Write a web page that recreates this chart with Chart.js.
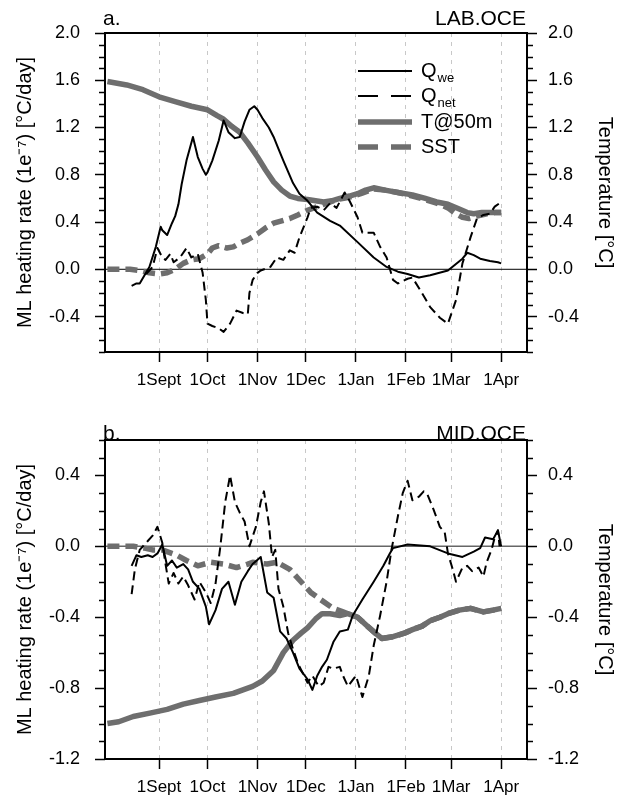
<!DOCTYPE html>
<html>
<head>
<meta charset="utf-8">
<script src="https://cdn.jsdelivr.net/npm/chart.js@4.4.1/dist/chart.umd.min.js"></script>
<style>
  body { margin: 0; background: #fff; }
  canvas { display: block; }
</style>
</head>
<body>
<canvas id="chart-lab" width="625" height="400"></canvas>
<canvas id="chart-mid" width="625" height="399"></canvas>
<script>
// x values are days counted from 1 Sept
const monthTickDays = [0, 30, 61, 91, 122, 153, 181, 212];
const monthTickLabels = ['1Sept', '1Oct', '1Nov', '1Dec', '1Jan', '1Feb', '1Mar', '1Apr'];
const labTicks = [-0.4, 0, 0.4, 0.8, 1.2, 1.6, 2.0];
const midTicks = [-1.2, -0.8, -0.4, 0, 0.4];

/* a. LAB.OCE */
const labQweDays = [-17, -14, -12, -9, -6, -2, 1, 2, 5, 8,
  10, 12, 14, 17, 21, 24, 27, 29, 30, 33,
  37, 40, 43, 47, 50, 53, 56, 59, 61, 64,
  68, 71, 74, 77, 83, 87, 92, 98, 106, 112,
  123, 133, 141, 148, 154, 161, 168, 179, 188, 191,
  195, 199, 205, 210, 212];
const labQweValues = [-0.14, -0.12, -0.12, -0.05, 0.02, 0.19, 0.36, 0.33, 0.29, 0.39,
  0.45, 0.55, 0.72, 0.92, 1.12, 0.95, 0.85, 0.80, 0.82, 0.92,
  1.09, 1.26, 1.16, 1.11, 1.12, 1.25, 1.35, 1.38, 1.35, 1.28,
  1.20, 1.12, 1.02, 0.92, 0.73, 0.64, 0.58, 0.48, 0.41, 0.37,
  0.23, 0.10, 0.02, -0.02, -0.04, -0.07, -0.05, -0.01, 0.09, 0.14,
  0.12, 0.09, 0.07, 0.06, 0.05];

const labQnetDays = [-8, -4, -1, 2, 4, 7, 9, 13, 17, 20,
  24, 27, 29, 30, 33, 37, 40, 44, 48, 52,
  55, 56, 58, 61, 63, 69, 73, 77, 81, 84,
  87, 92, 94, 98, 102, 106, 110, 115, 118, 123,
  126, 133, 137, 141, 145, 148, 154, 157, 162, 168,
  174, 179, 184, 188, 193, 197, 201, 205, 208, 211];
const labQnetValues = [-0.04, 0.02, 0.18, 0.10, 0.08, 0.13, 0.06, 0.10, 0.18, 0.10,
  0.13, -0.03, -0.26, -0.46, -0.48, -0.50, -0.53, -0.46, -0.35, -0.37,
  -0.38, -0.20, -0.09, -0.03, -0.01, 0.02, 0.10, 0.08, 0.16, 0.14,
  0.27, 0.44, 0.52, 0.53, 0.50, 0.56, 0.52, 0.65, 0.58, 0.44,
  0.31, 0.31, 0.19, 0.10, -0.09, -0.12, -0.08, -0.07, -0.18, -0.32,
  -0.41, -0.46, -0.26, 0.05, 0.27, 0.43, 0.46, 0.47, 0.53, 0.56];

const labT50Days = [-32, -20, -10, 0, 10, 20, 30, 36, 40, 45,
  50, 55, 61, 66, 71, 76, 81, 86, 92, 97,
  102, 107, 112, 118, 123, 128, 133, 140, 148, 157,
  165, 172, 179, 186, 191, 195, 200, 206, 212];
const labT50Values = [1.59, 1.56, 1.52, 1.46, 1.42, 1.38, 1.35, 1.30, 1.27, 1.21,
  1.16, 1.07, 0.95, 0.84, 0.74, 0.67, 0.62, 0.60, 0.59, 0.58,
  0.57, 0.58, 0.60, 0.62, 0.64, 0.67, 0.69, 0.67, 0.65, 0.63,
  0.60, 0.57, 0.55, 0.51, 0.48, 0.47, 0.48, 0.48, 0.48];

const labSstDays = [-32, -25, -18, -12, -6, 0, 5, 10, 15, 20,
  25, 30, 33, 37, 42, 46, 50, 55, 61, 66,
  71, 76, 81, 86, 92, 98, 104, 110, 118, 125,
  133, 140, 148, 157, 165, 172, 179, 184, 188, 192,
  197, 203, 208, 212];
const labSstValues = [0, 0, 0, -0.01, -0.03, -0.04, -0.03, 0.0, 0.05, 0.08,
  0.09, 0.13, 0.18, 0.20, 0.18, 0.19, 0.22, 0.25, 0.30, 0.35,
  0.39, 0.41, 0.43, 0.46, 0.50, 0.53, 0.56, 0.59, 0.61, 0.64,
  0.68, 0.67, 0.65, 0.62, 0.59, 0.56, 0.52, 0.47, 0.44, 0.43,
  0.45, 0.47, 0.48, 0.48];

/* b. MID.OCE */
const midQweDays = [-17, -14, -11, -7, -4, -1, 2, 5, 8, 11,
  15, 18, 21, 25, 29, 31, 35, 39, 43, 47,
  51, 55, 58, 63, 67, 71, 75, 79, 83, 87,
  92, 95, 98, 101, 104, 108, 112, 117, 120, 126,
  133, 139, 143, 145, 154, 168, 179, 188, 195, 199,
  202, 207, 210, 212];
const midQweValues = [-0.11, -0.05, -0.06, -0.05, -0.06, -0.04, 0.01, -0.11, -0.08, -0.12,
  -0.10, -0.13, -0.20, -0.24, -0.34, -0.44, -0.36, -0.24, -0.20, -0.33,
  -0.20, -0.14, -0.10, -0.06, -0.26, -0.29, -0.48, -0.52, -0.60, -0.69,
  -0.75, -0.81, -0.73, -0.68, -0.64, -0.54, -0.48, -0.47, -0.39, -0.30,
  -0.20, -0.11, -0.04, -0.01, 0.01, 0.0, -0.04, -0.06, -0.03, -0.01,
  0.05, 0.04, 0.09, 0.0];

const midQnetDays = [-17, -15, -12, -7, -4, -1, 2, 4, 6, 9,
  12, 15, 18, 22, 25, 29, 32, 35, 38, 41,
  44, 47, 50, 53, 56, 60, 63, 65, 68, 70,
  72, 74, 77, 80, 83, 86, 92, 95, 99, 102,
  105, 108, 112, 114, 117, 122, 126, 130, 133, 137,
  141, 144, 148, 151, 154, 157, 161, 164, 166, 170,
  174, 177, 179, 182, 184, 188, 191, 194, 198, 201,
  203, 206, 208, 210, 211];
const midQnetValues = [-0.27, -0.13, -0.02, 0.03, 0.06, 0.11, 0.02, -0.10, -0.21, -0.15,
  -0.21, -0.17, -0.22, -0.30, -0.20, -0.26, -0.32, -0.21, 0.0, 0.25,
  0.40, 0.25, 0.19, 0.14, 0.0, 0.11, 0.25, 0.31, 0.13, -0.06,
  -0.02, -0.24, -0.34, -0.49, -0.58, -0.66, -0.77, -0.73, -0.79, -0.77,
  -0.68, -0.69, -0.68, -0.73, -0.79, -0.73, -0.85, -0.73, -0.56, -0.39,
  -0.20, -0.02, 0.17, 0.30, 0.37, 0.26, 0.28, 0.31, 0.30, 0.21,
  0.11, 0.08, -0.04, -0.13, -0.20, -0.12, -0.11, -0.14, -0.12, -0.17,
  -0.09, -0.02, 0.05, 0.09, 0.0];

const midT50Days = [-32, -25, -16, -5, 5, 15, 25, 35, 46, 52,
  58, 64, 71, 77, 83, 88, 92, 97, 101, 106,
  112, 117, 123, 129, 134, 138, 145, 152, 157, 163,
  168, 174, 179, 186, 193, 201, 207, 212];
const midT50Values = [-1.0, -0.99, -0.96, -0.94, -0.92, -0.89, -0.87, -0.85, -0.83, -0.81,
  -0.79, -0.76, -0.70, -0.60, -0.53, -0.49, -0.46, -0.41, -0.38, -0.38,
  -0.39, -0.38, -0.40, -0.45, -0.49, -0.52, -0.51, -0.49, -0.47, -0.45,
  -0.42, -0.40, -0.38, -0.36, -0.35, -0.37, -0.36, -0.35];

const midSstDays = [-32, -16, -9, -4, 2, 11, 17, 24, 32, 40,
  48, 55, 58, 67, 73, 81, 87, 94, 100, 108,
  114, 117, 123, 129, 134, 138, 145, 152, 157, 163,
  168, 174, 179, 186, 193, 201, 207, 212];
const midSstValues = [0, 0, -0.01, -0.02, -0.02, -0.05, -0.08, -0.11, -0.09, -0.10,
  -0.12, -0.10, -0.09, -0.10, -0.09, -0.13, -0.19, -0.26, -0.30, -0.35,
  -0.37, -0.38, -0.40, -0.45, -0.49, -0.52, -0.51, -0.49, -0.47, -0.45,
  -0.42, -0.40, -0.38, -0.36, -0.35, -0.37, -0.36, -0.35];

const GREY = '#6e6e6e';
const FONT = "'Liberation Sans', Arial, Helvetica, sans-serif";

Chart.defaults.font.family = FONT;
Chart.defaults.color = '#000';

function toPoints(days, values) {
  return days.map((d, i) => ({ x: d, y: values[i] }));
}

// frame, zero line, minor ticks, panel names and the legend
const panelDecor = {
  id: 'panelDecor',
  beforeDatasetsDraw(chart, args, opts) {
    const { ctx, chartArea, scales } = chart;
    const y0 = scales.y.getPixelForValue(0);
    ctx.save();
    ctx.strokeStyle = opts.zeroColor;
    ctx.lineWidth = opts.zeroWidth;
    ctx.beginPath();
    ctx.moveTo(chartArea.left, y0);
    ctx.lineTo(chartArea.right, y0);
    ctx.stroke();
    ctx.restore();
  },
  afterDraw(chart, args, opts) {
    const { ctx, chartArea, scales } = chart;
    ctx.save();

    // panel names
    ctx.fillStyle = '#000';
    ctx.font = '21px ' + FONT;
    ctx.textBaseline = 'alphabetic';
    ctx.textAlign = 'left';
    ctx.fillText(opts.letter, chartArea.left - 2, opts.nameBaseline);
    ctx.textAlign = 'right';
    ctx.fillText(opts.name, chartArea.right - 1, opts.nameBaseline);

    // minor ticks every 0.1
    ctx.strokeStyle = '#000';
    ctx.lineWidth = 1.5;
    ['y', 'y2'].forEach(id => {
      const s = scales[id];
      for (let k = Math.ceil(s.min * 10 - 1e-6); k <= Math.floor(s.max * 10 + 1e-6); k++) {
        if (k % 4 === 0) continue;
        const py = Math.round(s.getPixelForValue(k / 10)) + 0.5;
        ctx.beginPath();
        if (id === 'y') {
          ctx.moveTo(chartArea.left - 6, py);
          ctx.lineTo(chartArea.left, py);
        } else {
          ctx.moveTo(chartArea.right, py);
          ctx.lineTo(chartArea.right + 6, py);
        }
        ctx.stroke();
      }
    });

    // box around the plot
    ctx.lineWidth = 2;
    ctx.strokeRect(chartArea.left, chartArea.top, chartArea.right - chartArea.left, chartArea.bottom - chartArea.top);

    // legend, only on the first panel
    if (opts.legend) {
      const rows = [
        { main: 'Q', sub: 'we', color: '#000', width: 2, dash: [] },
        { main: 'Q', sub: 'net', color: '#000', width: 2, dash: [20, 13] },
        { main: 'T@50m', sub: '', color: GREY, width: 5.5, dash: [] },
        { main: 'SST', sub: '', color: GREY, width: 5.5, dash: [20, 13] }
      ];
      const rowY = [71, 96, 122, 147];
      rows.forEach((r, i) => {
        ctx.strokeStyle = r.color;
        ctx.lineWidth = r.width;
        ctx.setLineDash(r.dash);
        ctx.beginPath();
        ctx.moveTo(358, rowY[i]);
        ctx.lineTo(412, rowY[i]);
        ctx.stroke();
        ctx.setLineDash([]);
        ctx.fillStyle = '#000';
        ctx.textAlign = 'left';
        ctx.textBaseline = 'middle';
        ctx.font = '20px ' + FONT;
        ctx.fillText(r.main, 421, rowY[i]);
        if (r.sub) {
          const w = ctx.measureText(r.main).width;
          ctx.font = '13px ' + FONT;
          ctx.fillText(r.sub, 421 + w + 1, rowY[i] + 7);
        }
      });
    }
    ctx.restore();
  }
};

function buildPanel(canvasId, panel) {
  const canvas = document.getElementById(canvasId);
  const lineBase = { pointRadius: 0, tension: 0, fill: false, borderJoinStyle: 'round' };

  return new Chart(canvas, {
    type: 'line',
    data: {
      datasets: [
        { ...lineBase, label: 'Qwe', data: toPoints(panel.qweDays, panel.qweValues), yAxisID: 'y',
          borderColor: '#000', borderWidth: 2 },
        { ...lineBase, label: 'Qnet', data: toPoints(panel.qnetDays, panel.qnetValues), yAxisID: 'y',
          borderColor: '#000', borderWidth: 2, borderDash: [9, 5] },
        { ...lineBase, label: 'T@50m', data: toPoints(panel.t50Days, panel.t50Values), yAxisID: 'y2',
          borderColor: GREY, borderWidth: 5.5 },
        { ...lineBase, label: 'SST', data: toPoints(panel.sstDays, panel.sstValues), yAxisID: 'y2',
          borderColor: GREY, borderWidth: 5.5, borderDash: [12, 6] }
      ]
    },
    options: {
      responsive: false,
      animation: false,
      layout: { padding: { top: panel.padTop, left: 0, right: 0, bottom: 0 } },
      plugins: {
        legend: { display: false },
        tooltip: { enabled: false },
        panelDecor: {
          letter: panel.letter, name: panel.name, nameBaseline: panel.nameBaseline,
          legend: panel.showLegend, zeroColor: panel.zeroColor, zeroWidth: panel.zeroWidth
        }
      },
      scales: {
        x: {
          type: 'linear',
          min: -33.5,
          max: 228,
          afterBuildTicks: s => { s.ticks = monthTickDays.map(v => ({ value: v })); },
          afterFit: s => { s.height = panel.xAxisHeight; },
          ticks: {
            autoSkip: false, maxRotation: 0, minRotation: 0, padding: 8,
            font: { size: 17 },
            callback: (v, i) => monthTickLabels[i]
          },
          grid: { color: '#c8c8c8', lineWidth: 1, tickLength: 10, tickColor: '#000', tickWidth: 1.5 },
          border: { display: false, dash: [4, 5] }
        },
        y: {
          position: 'left',
          min: panel.yMin,
          max: panel.yMax,
          afterBuildTicks: s => { s.ticks = panel.yTicks.map(v => ({ value: v })); },
          afterFit: s => { s.width = 105; },
          ticks: { padding: 15, font: { size: 18 }, callback: v => v.toFixed(1) },
          grid: { drawOnChartArea: false, tickLength: 10, tickColor: '#000', tickWidth: 1.5 },
          border: { display: false },
          title: { display: true, text: 'ML heating rate (1e\u207B\u2077) [\u00B0C/day]',
            font: { size: 20 }, padding: { top: 13, bottom: 0 } }
        },
        y2: {
          position: 'right',
          min: panel.yMin,
          max: panel.yMax,
          afterBuildTicks: s => { s.ticks = panel.yTicks.map(v => ({ value: v })); },
          afterFit: s => { s.width = 98; },
          ticks: { padding: 11, font: { size: 18 }, callback: v => v.toFixed(1) },
          grid: { drawOnChartArea: false, tickLength: 10, tickColor: '#000', tickWidth: 1.5 },
          border: { display: false },
          title: { display: true, text: 'Temperature [\u00B0C]',
            font: { size: 20 }, padding: { top: 8, bottom: 0 } }
        }
      }
    },
    plugins: [panelDecor]
  });
}

buildPanel('chart-lab', {
  letter: 'a.', name: 'LAB.OCE', nameBaseline: 25, showLegend: true,
  zeroColor: '#000', zeroWidth: 1,
  padTop: 33, xAxisHeight: 48,
  yMin: -0.7, yMax: 2.0, yTicks: labTicks,
  qweDays: labQweDays, qweValues: labQweValues,
  qnetDays: labQnetDays, qnetValues: labQnetValues,
  t50Days: labT50Days, t50Values: labT50Values,
  sstDays: labSstDays, sstValues: labSstValues
});

buildPanel('chart-mid', {
  letter: 'b.', name: 'MID.OCE', nameBaseline: 40, showLegend: false,
  zeroColor: '#666', zeroWidth: 1.5,
  padTop: 40, xAxisHeight: 40,
  yMin: -1.2, yMax: 0.6, yTicks: midTicks,
  qweDays: midQweDays, qweValues: midQweValues,
  qnetDays: midQnetDays, qnetValues: midQnetValues,
  t50Days: midT50Days, t50Values: midT50Values,
  sstDays: midSstDays, sstValues: midSstValues
});
</script>
</body>
</html>
